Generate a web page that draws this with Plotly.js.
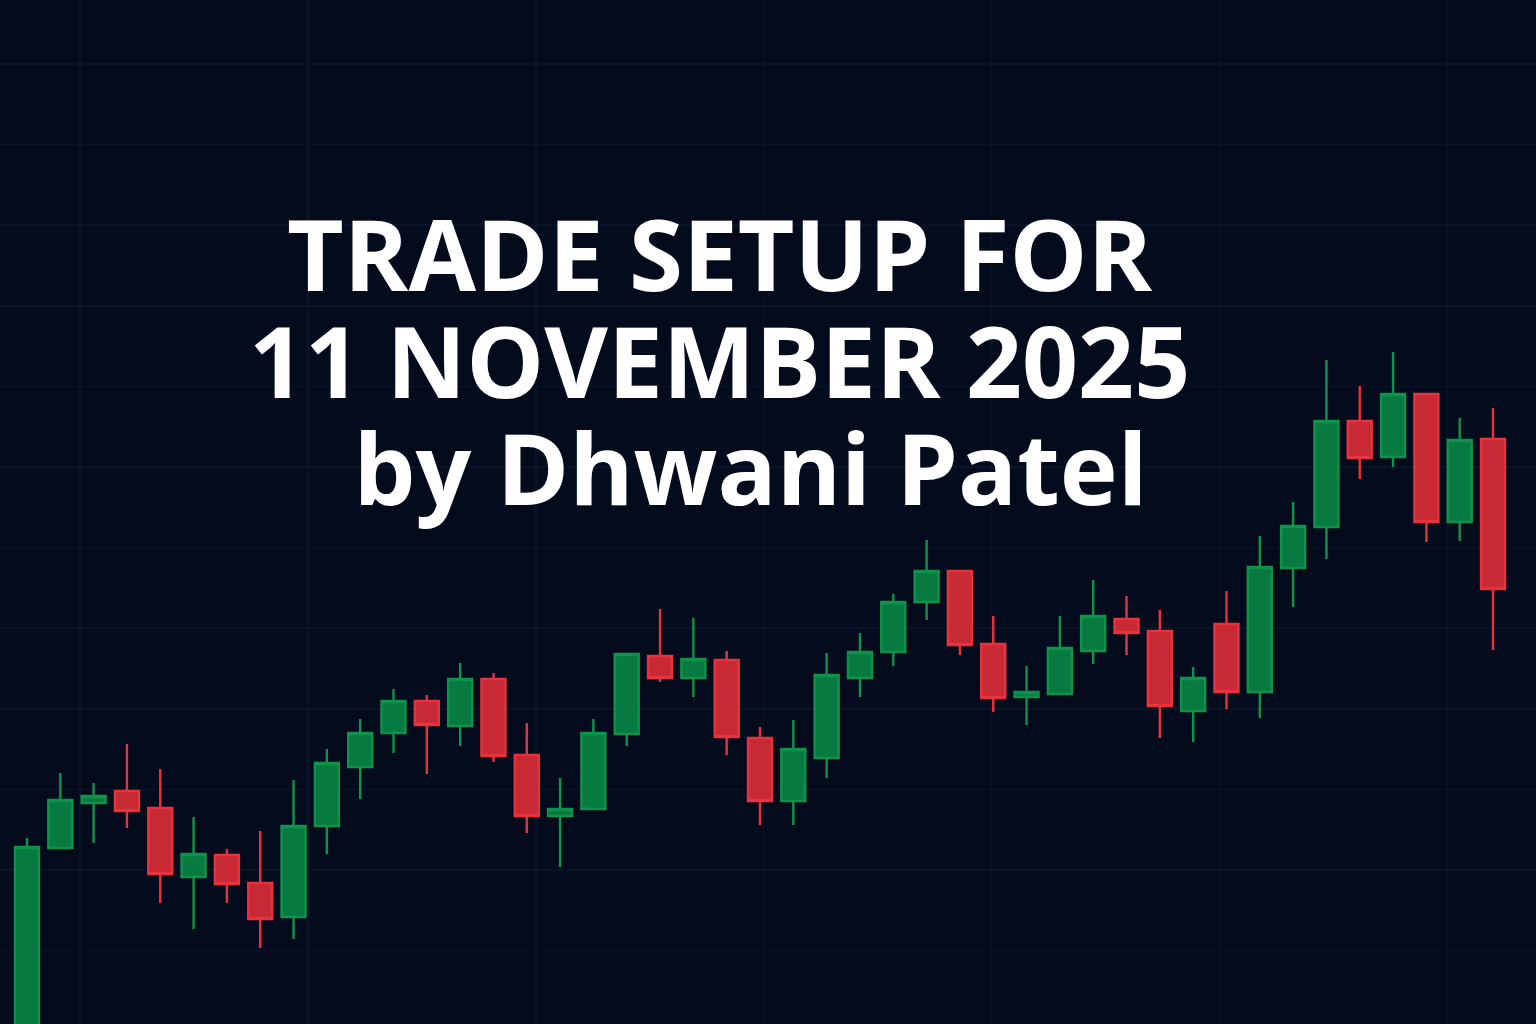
<!DOCTYPE html>
<html>
<head>
<meta charset="utf-8">
<script src="https://cdn.plot.ly/plotly-3.0.1.min.js"></script>
<style>
  html, body { margin: 0; padding: 0; background: #030b1d; }
  #chart { width: 1536px; height: 1024px; }
</style>
</head>
<body>
<div id="chart"></div>
<script>
// Session index for each candle
const sessions = [0,1,2,3,4,5,6,7,8,9,10,11,12,13,14,15,16,17,18,19,20,21,22,23,24,25,26,27,28,29,30,31,32,33,34,35,36,37,38,39,40,41,42,43,44];
// Price values (arbitrary units)
const openVals  = [-16,176,221,233,216,147,169,141,107,198,257,291,323,298,345,269,208,215,290,368,346,364,286,223,266,346,372,422,453,380,327,330,373,405,393,313,400,332,456,497,603,567,630,502,585];
const highVals  = [186,251,241,280,255,207,175,193,244,275,305,335,329,361,351,301,246,305,370,415,406,373,297,304,371,391,430,484,453,408,358,408,444,428,414,357,433,488,522,664,638,672,630,606,616];
const lowVals   = [-26,175,181,196,121,95,121,76,85,170,225,271,250,278,262,191,157,215,278,342,327,269,199,199,246,327,358,404,369,312,299,330,360,369,286,282,315,306,417,465,545,557,482,483,374];
const closeVals = [177,224,228,213,150,170,140,105,198,261,291,323,299,345,268,208,215,291,370,346,365,287,223,275,349,372,422,453,379,326,332,376,408,391,318,346,332,457,498,603,566,630,502,584,435];

const titleLines = ["TRADE SETUP FOR", "11 NOVEMBER 2025", "by Dhwani Patel"];

const trace = {
  type: 'candlestick',
  x: sessions,
  open: openVals,
  high: highVals,
  low: lowVals,
  close: closeVals,
  increasing: { fillcolor: '#067a40', line: { color: '#0f9249', width: 2.4 } },
  decreasing: { fillcolor: '#c72935', line: { color: '#e8323d', width: 2.4 } },
  whiskerwidth: 0,
  hoverinfo: 'none'
};

// One text block; the base size sets the line pitch, the span size sets the glyph size
const glyph = '<span style="font-size:98px">';
const indent = '<span style="font-size:119px">&nbsp;&nbsp;</span>';
const titleHtml =
  glyph + '<b>' + titleLines[0] + '</b></span><br>' +
  glyph + '<b>' + titleLines[1] + '</b></span><br>' +
  indent + glyph + '<b>' + titleLines[2] + '</b></span>';

const layout = {
  width: 1536,
  height: 1024,
  margin: { l: 0, r: 0, t: 0, b: 0 },
  paper_bgcolor: '#030b1d',
  plot_bgcolor: '#030b1d',
  showlegend: false,
  boxgap: 0.28,
  boxgroupgap: 0,
  xaxis: {
    range: [-0.81, 45.29],
    rangeslider: { visible: false },
    showticklabels: false,
    showgrid: true,
    gridcolor: '#08142a',
    gridwidth: 1.5,
    tick0: 1.59,
    dtick: 6.84,
    zeroline: false,
    showline: false,
    ticks: ''
  },
  yaxis: {
    range: [0, 1024],
    showticklabels: false,
    showgrid: true,
    gridcolor: '#08142a',
    gridwidth: 1.5,
    tick0: 73.4,
    dtick: 80.6,
    zeroline: false,
    showline: false,
    ticks: ''
  },
  annotations: [{
    text: titleHtml,
    xref: 'paper', yref: 'paper',
    x: 719 / 1536,
    y: 1 - 363 / 1024,
    xanchor: 'center', yanchor: 'middle',
    align: 'center',
    showarrow: false,
    font: { family: 'Open Sans, sans-serif', size: 82.3, color: '#ffffff', weight: 700 }
  }]
};

Plotly.newPlot('chart', [trace], layout, { displayModeBar: false, staticPlot: true });
</script>
</body>
</html>
